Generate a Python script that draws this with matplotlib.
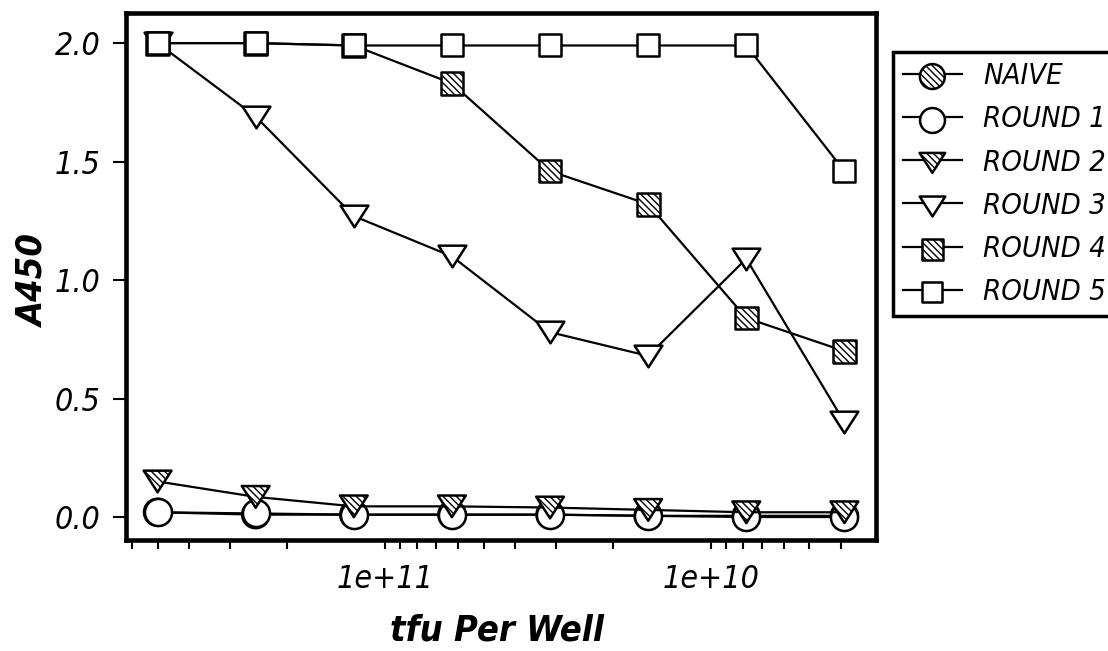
import numpy as np
import matplotlib
matplotlib.use('Agg')
import matplotlib.pyplot as plt
import matplotlib.path as mpath
from matplotlib import font_manager
from matplotlib.ticker import FixedLocator, FuncFormatter, NullFormatter, LogLocator
from matplotlib.legend_handler import HandlerTuple

# pick a condensed face if there is one
fonts = font_manager.fontManager.ttflist
names = {f.name for f in fonts}
stretch = 'normal'
if 'Liberation Sans Narrow' in names:
    family = 'Liberation Sans Narrow'
    scale = 1.0
elif any(f.name == 'DejaVu Sans' and f.stretch in ('condensed', 'semi-condensed', 600, 500) for f in fonts):
    family = 'DejaVu Sans'
    stretch = 'condensed'
    scale = 1.0
else:
    family = 'Liberation Sans'
    scale = 0.86
plt.rcParams['font.family'] = [family, 'DejaVu Sans']
plt.rcParams['font.stretch'] = stretch

# tfu per well (2-fold dilutions)
tfu = [5e11, 2.5e11, 1.25e11, 6.25e10, 3.125e10, 1.5625e10, 7.8125e9, 3.90625e9]

naive = [0.02, 0.01, 0.01, 0.01, 0.01, 0.005, 0.005, 0.005]
round1 = [0.02, 0.015, 0.01, 0.01, 0.01, 0.005, 0.0, 0.0]
round2 = [0.15, 0.085, 0.045, 0.045, 0.04, 0.03, 0.02, 0.02]
round3 = [2.0, 1.69, 1.27, 1.10, 0.78, 0.68, 1.09, 0.40]
round4 = [2.0, 2.0, 1.99, 1.83, 1.46, 1.32, 0.84, 0.70]
round5 = [2.0, 2.0, 1.99, 1.99, 1.99, 1.99, 1.99, 1.46]

labels = ['NAIVE', 'ROUND 1', 'ROUND 2', 'ROUND 3', 'ROUND 4', 'ROUND 5']
series = [naive, round1, round2, round3, round4, round5]

# triangle a bit flatter than the default 'v'
tri = mpath.Path([(-1, 0.78), (1, 0.78), (0, -0.78), (-1, 0.78)], closed=True)
hat = '\\\\\\\\\\'
styles = [
    dict(marker='o', s=380, hatch=hat),
    dict(marker='o', s=380, hatch=None),
    dict(marker=tri, s=400, hatch=hat),
    dict(marker=tri, s=400, hatch=None),
    dict(marker='s', s=270, hatch=hat),
    dict(marker='s', s=270, hatch=None),
]

fig = plt.figure(figsize=(11.08, 6.51), dpi=100)
ax = fig.add_axes([0.1137, 0.1705, 0.6769, 0.8095])

handles = []
for i, (vals, st) in enumerate(zip(series, styles)):
    ln, = ax.plot(tfu, vals, color='black', lw=1.6, zorder=2 + i)
    sc = ax.scatter(tfu, vals, marker=st['marker'], s=st['s'], facecolor='white',
                    edgecolor='black', linewidths=1.8, hatch=st['hatch'], zorder=2.5 + i)
    handles.append((ln, sc))

ax.set_xscale('log')
ax.set_xlim(6.25e11, 3.125e9)
ax.set_ylim(-0.097, 2.127)

ax.xaxis.set_major_locator(FixedLocator([1e11, 1e10]))
ax.xaxis.set_major_formatter(FuncFormatter(lambda v, p: '1e+%d' % round(np.log10(v))))
ax.xaxis.set_minor_locator(LogLocator(base=10, subs=np.arange(2, 10)))
ax.xaxis.set_minor_formatter(NullFormatter())

ax.set_yticks([0.0, 0.5, 1.0, 1.5, 2.0])
ax.yaxis.set_major_formatter(FuncFormatter(lambda v, p: '%.1f' % v))

for sp in ax.spines.values():
    sp.set_linewidth(3.3)

ax.tick_params(axis='x', which='both', direction='out', length=6.5, width=1.5, pad=11)
ax.tick_params(axis='y', which='major', direction='out', length=9.5, width=1.5, pad=9)
ax.tick_params(axis='both', labelsize=23 * scale)
for t in ax.get_xticklabels() + ax.get_yticklabels():
    t.set_fontstyle('italic')

ax.set_xlabel('tfu Per Well', fontsize=26 * scale, fontweight='bold', fontstyle='italic')
ax.set_ylabel('A450', fontsize=26 * scale, fontweight='bold', fontstyle='italic')
ax.xaxis.set_label_coords(0.495, -0.14)
ax.yaxis.set_label_coords(-0.1, 0.49)

leg = fig.legend(handles, labels, loc='upper left', bbox_to_anchor=(893 / 1108, 1 - 52 / 651),
                 handler_map={tuple: HandlerTuple(ndivide=1)},
                 prop={'size': 21 * scale, 'style': 'italic'}, frameon=True, fancybox=False,
                 edgecolor='black', framealpha=1, handlelength=2.0, handletextpad=0.75,
                 labelspacing=0.52, borderpad=0.35, borderaxespad=0, scatterpoints=1,
                 markerscale=0.92)
leg.get_frame().set_linewidth(2.5)

fig.savefig('out.png', dpi=100)
